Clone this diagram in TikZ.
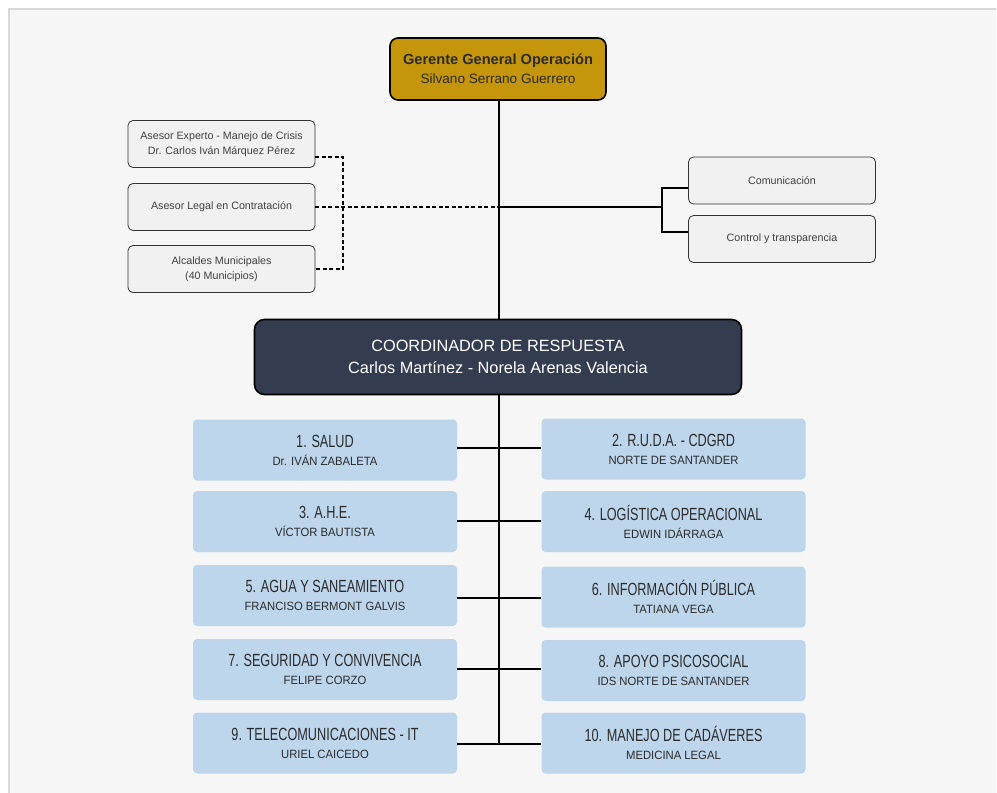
\documentclass[tikz,border=0pt]{standalone}
\usepackage{fontspec}
\setmainfont{Liberation Sans}
\newfontfamily\narrowfont{Liberation Sans}[FakeStretch=0.72]
\newfontfamily\semifont{Liberation Sans}[FakeStretch=0.94]
\definecolor{gold}{HTML}{C5960B}
\definecolor{navy}{HTML}{333D4F}
\definecolor{paleblue}{HTML}{BED6EC}
\definecolor{panel}{HTML}{F6F6F6}
\definecolor{panelline}{HTML}{D9D9D9}
\definecolor{boxgrey}{HTML}{F1F1F1}
\definecolor{ink}{HTML}{2B2B2B}
\newcommand{\areatext}[2]{{\narrowfont\fontsize{17.6}{18}\selectfont #1}\\{\semifont #2}}
\begin{document}
\begin{tikzpicture}[x=1pt, y=-1pt,
    boss/.style={draw=black, line width=1.6pt, rounded corners=8pt, fill=gold,
      minimum width=216pt, minimum height=62pt, align=center, text=ink,
      font=\fontsize{13.6}{19}\selectfont},
    chief/.style={draw=black, line width=1.6pt, rounded corners=10pt, fill=navy,
      minimum width=487pt, minimum height=75pt, align=center, text=white,
      font=\fontsize{16.3}{22}\selectfont},
    staff/.style={draw=black!80, line width=0.8pt, rounded corners=5pt, fill=boxgrey,
      minimum width=187pt, minimum height=47pt, align=center, text=black!75,
      font=\fontsize{10.7}{15}\selectfont},
    area/.style={fill=paleblue, rounded corners=4pt, minimum width=264pt,
      minimum height=61pt, align=center, text=ink,
      font=\fontsize{12}{18}\selectfont},
    link/.style={line width=2pt, black},
    dashlink/.style={line width=1.6pt, black, dash pattern=on 4pt off 2.5pt}]
  \useasboundingbox (0,0) rectangle (997,793);
  \fill[white] (0,0) rectangle (997,793);
  \fill[panel] (9,9) rectangle (996,793);
  \draw[panelline, line width=2pt] (9,793) -- (9,9) -- (996,9);

  % top of the chart
  \node[boss] (ger) at (498,69)
    {\textbf{\fontsize{14.6}{19}\selectfont Gerente General Operación}\\Silvano Serrano Guerrero};
  \node[chief] (coord) at (498,357)
    {COORDINADOR DE RESPUESTA\\Carlos Martínez - Norela Arenas Valencia};

  % advisers
  \node[staff] (ase) at (221.5,144)
    {Asesor Experto - Manejo de Crisis\\Dr. Carlos Iván Márquez Pérez};
  \node[staff] (legal) at (221.5,207) {Asesor Legal en Contratación};
  \node[staff] (alc) at (221.5,269) {Alcaldes Municipales\\(40 Municipios)};
  \node[staff] (com) at (782,180.5) {Comunicación};
  \node[staff] (ctl) at (782,239) {Control y transparencia};

  % areas
  \node[area] (a1) at (325,450) {\areatext{1. SALUD}{Dr. IVÁN ZABALETA}};
  \node[area] (a2) at (673.5,449) {\areatext{2. R.U.D.A. - CDGRD}{NORTE DE SANTANDER}};
  \node[area] (a3) at (325,521.5) {\areatext{3. A.H.E.}{VÍCTOR BAUTISTA}};
  \node[area] (a4) at (673.5,521.5) {\areatext{4. LOGÍSTICA OPERACIONAL}{EDWIN IDÁRRAGA}};
  \node[area] (a5) at (325,595.5) {\areatext{5. AGUA Y SANEAMIENTO}{FRANCISO BERMONT GALVIS}};
  \node[area] (a6) at (673.5,597) {\areatext{6. INFORMACIÓN PÚBLICA}{TATIANA VEGA}};
  \node[area] (a7) at (325,669.5) {\areatext{7. SEGURIDAD Y CONVIVENCIA}{FELIPE CORZO}};
  \node[area] (a8) at (673.5,670.5) {\areatext{8. APOYO PSICOSOCIAL}{IDS NORTE DE SANTANDER}};
  \node[area] (a9) at (325,743) {\areatext{9. TELECOMUNICACIONES - IT}{URIEL CAICEDO}};
  \node[area] (a10) at (673.5,743) {\areatext{10. MANEJO DE CADÁVERES}{MEDICINA LEGAL}};

  \coordinate (jL) at (343,207);
  \coordinate (jR) at (662,207);
  \coordinate (bot) at (499,744);

  % connectors
  \draw[link] (ger.south -| bot) -- (coord.north -| bot);
  \draw[link] (coord.south -| bot) -- (bot);
  \draw[dashlink] (legal.east) -- (legal.east -| bot);
  \draw[link] (legal.east -| bot) -- (jR);
  \draw[link] ([yshift=-7.5pt]com.west) -| (jR) |- ([yshift=7pt]ctl.west);
  \draw[dashlink] ([yshift=-13pt]ase.east) -| (jL) |- (alc.east);
  \draw[link] (a1.east |- 0,448) -- (a2.west |- 0,448);
  \draw[link] (a3.east |- 0,521) -- (a4.west |- 0,521);
  \draw[link] (a5.east |- 0,598) -- (a6.west |- 0,598);
  \draw[link] (a7.east |- 0,669) -- (a8.west |- 0,669);
  \draw[link] (a9.east |- bot) -- (a10.west |- bot);
\end{tikzpicture}
\end{document}
